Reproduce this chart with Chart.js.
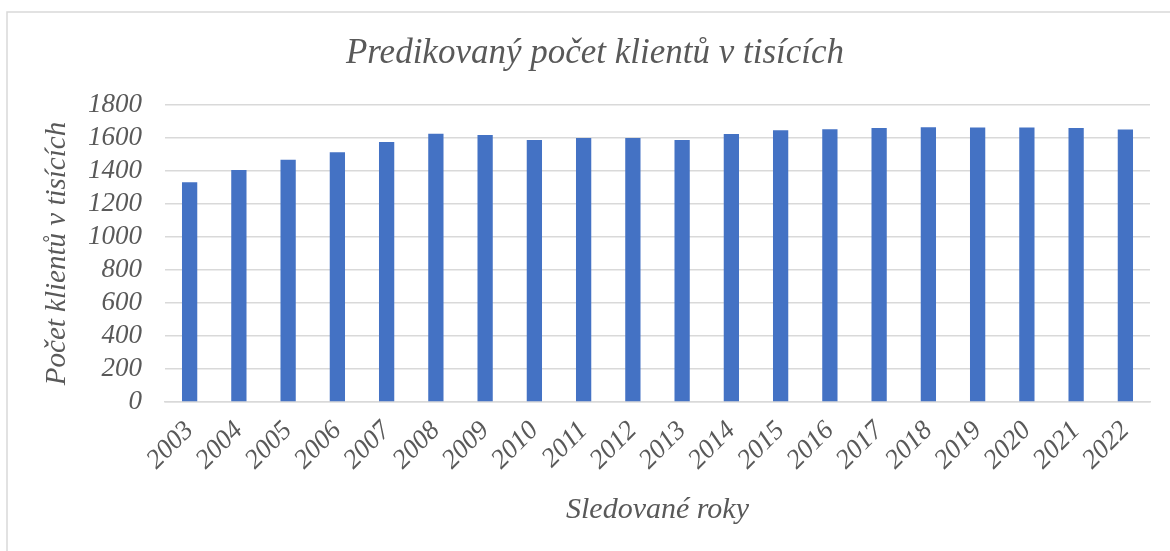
<!DOCTYPE html>
<html>
<head>
<meta charset="utf-8">
<script src="https://cdn.jsdelivr.net/npm/chart.js@4"></script>
<style>
  html, body { margin: 0; padding: 0; background: #fff; }
  #wrap { width: 1170px; height: 551px; }
</style>
</head>
<body>
<div id="wrap"><canvas id="chart" width="1170" height="551"></canvas></div>
<script>
const years = ['2003', '2004', '2005', '2006', '2007', '2008', '2009', '2010', '2011', '2012',
    '2013', '2014', '2015', '2016', '2017', '2018', '2019', '2020', '2021', '2022'];
const clients = [1332, 1406, 1468, 1513, 1576, 1626, 1618, 1588, 1600, 1600,
    1588, 1624, 1647, 1653, 1661, 1665, 1663, 1663, 1661, 1651];
const yTicks = [0, 200, 400, 600, 800, 1000, 1200, 1400, 1600, 1800];

const grey = '#595959';
const font = 'Liberation Serif, Times New Roman, serif';

// light frame around the chart like the Excel chart area
const framePlugin = {
    id: 'frame',
    beforeDraw(chart) {
        const ctx = chart.ctx;
        ctx.save();
        ctx.fillStyle = '#fff';
        ctx.fillRect(0, 0, chart.width, chart.height);
        ctx.strokeStyle = '#d9d9d9';
        ctx.lineWidth = 1.5;
        ctx.strokeRect(7, 12, chart.width + 20, chart.height + 20);
        ctx.restore();
    }
};

new Chart(document.getElementById('chart').getContext('2d'), {
    type: 'bar',
    data: {
        labels: years,
        datasets: [{
            label: 'Počet klientů',
            data: clients,
            backgroundColor: '#4472c4',
            categoryPercentage: 1,
            barPercentage: 0.31
        }]
    },
    options: {
        responsive: false,
        animation: false,
        layout: { padding: { left: 40, right: 20, top: 0, bottom: 23 } },
        plugins: {
            legend: { display: false },
            tooltip: { enabled: false },
            title: {
                display: true,
                text: 'Predikovaný počet klientů v tisících',
                color: grey,
                font: { family: font, size: 35, style: 'italic', weight: 'normal', lineHeight: 1.2 },
                padding: { top: 33, bottom: 30 }
            }
        },
        scales: {
            x: {
                grid: { display: false, drawTicks: false },
                border: { display: true, color: '#d9d9d9', width: 1.5 },
                ticks: {
                    color: grey,
                    font: { family: font, size: 27, style: 'italic' },
                    minRotation: 45,
                    maxRotation: 45,
                    autoSkip: false,
                    padding: 13
                },
                title: {
                    display: true,
                    text: 'Sledované roky',
                    color: grey,
                    font: { family: font, size: 30, style: 'italic', lineHeight: 1.2 },
                    padding: { top: 0, bottom: 0 }
                },
                afterFit(scale) { scale.height = 126; }
            },
            y: {
                min: 0,
                max: 1800,
                afterBuildTicks(scale) { scale.ticks = yTicks.map(v => ({ value: v })); },
                grid: { color: '#d9d9d9', lineWidth: 1.5, drawTicks: false },
                border: { display: false },
                ticks: {
                    color: grey,
                    font: { family: font, size: 27, style: 'italic' },
                    autoSkip: false,
                    padding: 23,
                    callback: v => String(v)
                },
                title: {
                    display: true,
                    text: 'Počet klientů v tisících',
                    color: grey,
                    font: { family: font, size: 29, style: 'italic', lineHeight: 1.2 },
                    padding: { top: 0, bottom: 0 }
                },
                afterFit(scale) { scale.width = 125; }
            }
        }
    },
    plugins: [framePlugin]
});
</script>
</body>
</html>
